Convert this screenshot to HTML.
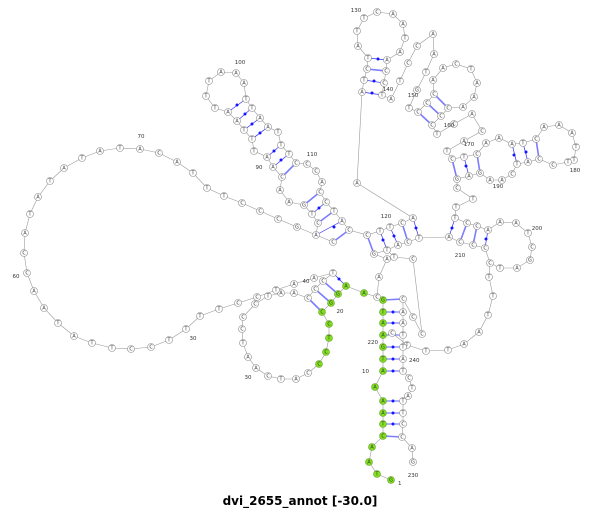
<!DOCTYPE html>
<html><head><meta charset="utf-8"><style>
body{margin:0;background:#fff}
svg{display:block}
.bb{fill:none;stroke:#9a9a9a;stroke-width:0.6}
.n circle{r:3.5px;fill:#fff;stroke:#8a8a8a;stroke-width:0.6}
.n circle.g{fill:#80e020;stroke:#6a9a30}
.n text{font-family:"DejaVu Sans","Liberation Sans",sans-serif;font-size:4.8px;text-anchor:middle;fill:#333}
.lb{font-family:"DejaVu Sans","Liberation Sans",sans-serif;font-size:5.5px;fill:#333}
.pd{stroke:#3030ff;stroke-width:0.7}
.pp{stroke:#7c7cff;stroke-width:1.6}
.dot{fill:#1515ff}
</style></head><body>
<svg width="600" height="510" viewBox="0 0 600 510" xmlns="http://www.w3.org/2000/svg">
<g class="bb">
<polyline points="391,480 377,474 369,462 372,447 383,436 383,424 383,413 383,401 375,387 383,371 383,359 383,347 383,335 383,323 383,312 383,300 377,297 364,293 346,286 338,294 331,303 322,312 329,324 329,338 326,352 319,364 308,373 296,379 281,379 268,376 256,368 248,357 243,343 242,329 243,317 255,304 268,296 281,293 294,293 308,298 315,289 323,281 333,273 314,278 294,284 276,290 257,297 238,303 219,309 200,316 186,329 169,340 151,347 131,349 112,348 92,343 74,336 58,323 44,308 34,291 27,273 24,253 25,233 30,214 38,197 50,181 64,168 82,158 100,151 120,148 140,149 159,153 177,162 193,173 207,188 224,196 242,203 260,211 278,219 297,227 316,235 318,223 312,214 304,205 289,202 280,190 282,177 273,167 267,157 254,151 252,139 244,130 237,121 228,112 215,108 206,96 209,81 221,72 236,73 244,83 246,99 252,108 260,118 268,127 278,132 281,145 289,154 296,163 307,164 316,171 322,182 320,192 326,202 334,211 342,221 349,230 367,235 380,231 390,227 402,223 413,218 357,183 362,92 364,80 367,69 368,58 358,46 357,31 364,18 377,12 393,14 403,24 405,38 400,52 387,60 386,71 384,83 382,95 391,99 400,81 408,63 417,46 433,34 434,54 426,72 417,90 409,108 418,112 427,103 434,94 433,80 443,68 456,64 471,69 477,83 474,97 463,107 448,108 441,116 432,125 437,134 454,124 472,114 482,131 464,141 447,151 452,159 464,157 477,154 486,143 499,138 512,144 523,143 536,139 544,127 559,125 572,133 576,147 574,160 568,162 553,165 539,159 528,162 517,164 512,174 502,180 490,180 480,173 469,176 457,179 457,188 473,199 456,207 455,218 467,223 477,226 488,230 500,222 516,223 528,233 532,247 530,260 517,268 500,268 490,263 485,248 473,245 460,242 449,237 419,238 408,242 398,245 387,250 374,254 387,259 379,277 377,297"/>
<polyline points="490,263 489,277 493,296 488,315 479,332 464,344 448,350 426,351 407,345 392,333"/>
<polyline points="394,257 413,259 422,334 413,317 403,299 403,312 403,323 403,335 403,347 403,359 403,371 409,378 412,388 408,396 403,401 403,413 403,424 402,437 412,448 413,462"/>
<polyline points="316,235 333,242 349,230"/>
<line x1="387" y1="250" x2="394" y2="257"/>
</g>
<g>
<line class="pp" x1="383" y1="300" x2="403" y2="299"/>
<line class="pp" x1="383" y1="436" x2="402" y2="437"/>
<line class="pp" x1="308" y1="298" x2="322" y2="312"/>
<line class="pp" x1="315" y1="289" x2="331" y2="303"/>
<line class="pp" x1="323" y1="281" x2="338" y2="294"/>
<line class="pp" x1="282" y1="177" x2="296" y2="163"/>
<line class="pp" x1="304" y1="205" x2="320" y2="192"/>
<line class="pp" x1="318" y1="223" x2="334" y2="211"/>
<line class="pp" x1="333" y1="242" x2="349" y2="230"/>
<line class="pp" x1="367" y1="235" x2="374" y2="254"/>
<line class="pp" x1="402" y1="223" x2="408" y2="242"/>
<line class="pp" x1="367" y1="69" x2="386" y2="71"/>
<line class="pp" x1="418" y1="112" x2="432" y2="125"/>
<line class="pp" x1="427" y1="103" x2="441" y2="116"/>
<line class="pp" x1="434" y1="94" x2="448" y2="108"/>
<line class="pp" x1="452" y1="159" x2="457" y2="179"/>
<line class="pp" x1="477" y1="154" x2="480" y2="173"/>
<line class="pp" x1="536" y1="139" x2="539" y2="159"/>
<line class="pp" x1="467" y1="223" x2="460" y2="242"/>
<line class="pp" x1="477" y1="226" x2="473" y2="245"/>
<g class="pd">
<line x1="383" y1="312" x2="403" y2="312"/><line x1="383" y1="323" x2="403" y2="323"/><line x1="383" y1="335" x2="403" y2="335"/><line x1="383" y1="347" x2="403" y2="347"/><line x1="383" y1="359" x2="403" y2="359"/><line x1="383" y1="371" x2="403" y2="371"/><line x1="383" y1="401" x2="403" y2="401"/><line x1="383" y1="413" x2="403" y2="413"/><line x1="383" y1="424" x2="403" y2="424"/>
<line x1="333" y1="273" x2="346" y2="286"/>
<line x1="228" y1="112" x2="246" y2="99"/><line x1="237" y1="121" x2="252" y2="108"/><line x1="244" y1="130" x2="260" y2="118"/><line x1="252" y1="139" x2="268" y2="127"/><line x1="267" y1="157" x2="281" y2="145"/><line x1="273" y1="167" x2="289" y2="154"/>
<line x1="312" y1="214" x2="326" y2="202"/><line x1="316" y1="235" x2="342" y2="221"/>
<line x1="380" y1="231" x2="387" y2="250"/><line x1="390" y1="227" x2="398" y2="245"/><line x1="413" y1="218" x2="419" y2="238"/>
<line x1="368" y1="58" x2="387" y2="60"/><line x1="364" y1="80" x2="384" y2="83"/><line x1="362" y1="92" x2="382" y2="95"/>
<line x1="464" y1="157" x2="469" y2="176"/><line x1="512" y1="144" x2="517" y2="164"/><line x1="523" y1="143" x2="528" y2="162"/>
<line x1="455" y1="218" x2="449" y2="237"/><line x1="488" y1="230" x2="485" y2="248"/>
</g>
<g class="dot">
<circle cx="393" cy="312" r="1.5"/><circle cx="393" cy="323" r="1.5"/><circle cx="393" cy="335" r="1.5"/><circle cx="393" cy="347" r="1.5"/><circle cx="393" cy="359" r="1.5"/><circle cx="393" cy="371" r="1.5"/><circle cx="393" cy="401" r="1.5"/><circle cx="393" cy="413" r="1.5"/><circle cx="393" cy="424" r="1.5"/>
<circle cx="339" cy="279" r="1.5"/>
<circle cx="237" cy="105" r="1.5"/><circle cx="245" cy="114" r="1.5"/><circle cx="252" cy="124" r="1.5"/><circle cx="260" cy="133" r="1.5"/><circle cx="274" cy="151" r="1.5"/><circle cx="281" cy="160" r="1.5"/>
<circle cx="319" cy="208" r="1.5"/><circle cx="334" cy="227" r="1.5"/>
<circle cx="383" cy="240" r="1.5"/><circle cx="394" cy="236" r="1.5"/><circle cx="416" cy="228" r="1.5"/>
<circle cx="378" cy="59" r="1.5"/><circle cx="374" cy="81" r="1.5"/><circle cx="372" cy="93" r="1.5"/>
<circle cx="466" cy="166" r="1.5"/><circle cx="514" cy="155" r="1.5"/><circle cx="526" cy="152" r="1.5"/>
<circle cx="452" cy="228" r="1.5"/><circle cx="486" cy="239" r="1.5"/>
</g>
</g>
<g class="n">
<circle class="g" cx="391" cy="480" r="3.5"/><text x="391" y="481.7">G</text>
<circle class="g" cx="377" cy="474" r="3.5"/><text x="377" y="475.7">T</text>
<circle class="g" cx="369" cy="462" r="3.5"/><text x="369" y="463.7">A</text>
<circle class="g" cx="372" cy="447" r="3.5"/><text x="372" y="448.7">A</text>
<circle class="g" cx="383" cy="436" r="3.5"/><text x="383" y="437.7">C</text>
<circle class="g" cx="383" cy="424" r="3.5"/><text x="383" y="425.7">T</text>
<circle class="g" cx="383" cy="413" r="3.5"/><text x="383" y="414.7">A</text>
<circle class="g" cx="383" cy="401" r="3.5"/><text x="383" y="402.7">A</text>
<circle class="g" cx="375" cy="387" r="3.5"/><text x="375" y="388.7">A</text>
<circle class="g" cx="383" cy="371" r="3.5"/><text x="383" y="372.7">A</text>
<circle class="g" cx="383" cy="359" r="3.5"/><text x="383" y="360.7">T</text>
<circle class="g" cx="383" cy="347" r="3.5"/><text x="383" y="348.7">G</text>
<circle class="g" cx="383" cy="335" r="3.5"/><text x="383" y="336.7">A</text>
<circle class="g" cx="383" cy="323" r="3.5"/><text x="383" y="324.7">A</text>
<circle class="g" cx="383" cy="312" r="3.5"/><text x="383" y="313.7">T</text>
<circle class="g" cx="383" cy="300" r="3.5"/><text x="383" y="301.7">G</text>
<circle cx="377" cy="297" r="3.5"/><text x="377" y="298.7">C</text>
<circle class="g" cx="364" cy="293" r="3.5"/><text x="364" y="294.7">A</text>
<circle class="g" cx="346" cy="286" r="3.5"/><text x="346" y="287.7">A</text>
<circle class="g" cx="338" cy="294" r="3.5"/><text x="338" y="295.7">G</text>
<circle class="g" cx="331" cy="303" r="3.5"/><text x="331" y="304.7">G</text>
<circle class="g" cx="322" cy="312" r="3.5"/><text x="322" y="313.7">C</text>
<circle class="g" cx="329" cy="324" r="3.5"/><text x="329" y="325.7">C</text>
<circle class="g" cx="329" cy="338" r="3.5"/><text x="329" y="339.7">T</text>
<circle class="g" cx="326" cy="352" r="3.5"/><text x="326" y="353.7">C</text>
<circle class="g" cx="319" cy="364" r="3.5"/><text x="319" y="365.7">C</text>
<circle cx="308" cy="373" r="3.5"/><text x="308" y="374.7">C</text>
<circle cx="296" cy="379" r="3.5"/><text x="296" y="380.7">A</text>
<circle cx="281" cy="379" r="3.5"/><text x="281" y="380.7">T</text>
<circle cx="268" cy="376" r="3.5"/><text x="268" y="377.7">C</text>
<circle cx="256" cy="368" r="3.5"/><text x="256" y="369.7">A</text>
<circle cx="248" cy="357" r="3.5"/><text x="248" y="358.7">A</text>
<circle cx="243" cy="343" r="3.5"/><text x="243" y="344.7">T</text>
<circle cx="242" cy="329" r="3.5"/><text x="242" y="330.7">C</text>
<circle cx="243" cy="317" r="3.5"/><text x="243" y="318.7">C</text>
<circle cx="255" cy="304" r="3.5"/><text x="255" y="305.7">C</text>
<circle cx="268" cy="296" r="3.5"/><text x="268" y="297.7">T</text>
<circle cx="281" cy="293" r="3.5"/><text x="281" y="294.7">A</text>
<circle cx="294" cy="293" r="3.5"/><text x="294" y="294.7">A</text>
<circle cx="308" cy="298" r="3.5"/><text x="308" y="299.7">C</text>
<circle cx="315" cy="289" r="3.5"/><text x="315" y="290.7">C</text>
<circle cx="323" cy="281" r="3.5"/><text x="323" y="282.7">C</text>
<circle cx="333" cy="273" r="3.5"/><text x="333" y="274.7">T</text>
<circle cx="314" cy="278" r="3.5"/><text x="314" y="279.7">A</text>
<circle cx="294" cy="284" r="3.5"/><text x="294" y="285.7">A</text>
<circle cx="276" cy="290" r="3.5"/><text x="276" y="291.7">T</text>
<circle cx="257" cy="297" r="3.5"/><text x="257" y="298.7">C</text>
<circle cx="238" cy="303" r="3.5"/><text x="238" y="304.7">C</text>
<circle cx="219" cy="309" r="3.5"/><text x="219" y="310.7">T</text>
<circle cx="200" cy="316" r="3.5"/><text x="200" y="317.7">T</text>
<circle cx="186" cy="329" r="3.5"/><text x="186" y="330.7">T</text>
<circle cx="169" cy="340" r="3.5"/><text x="169" y="341.7">T</text>
<circle cx="151" cy="347" r="3.5"/><text x="151" y="348.7">C</text>
<circle cx="131" cy="349" r="3.5"/><text x="131" y="350.7">C</text>
<circle cx="112" cy="348" r="3.5"/><text x="112" y="349.7">T</text>
<circle cx="92" cy="343" r="3.5"/><text x="92" y="344.7">T</text>
<circle cx="74" cy="336" r="3.5"/><text x="74" y="337.7">A</text>
<circle cx="58" cy="323" r="3.5"/><text x="58" y="324.7">T</text>
<circle cx="44" cy="308" r="3.5"/><text x="44" y="309.7">A</text>
<circle cx="34" cy="291" r="3.5"/><text x="34" y="292.7">A</text>
<circle cx="27" cy="273" r="3.5"/><text x="27" y="274.7">C</text>
<circle cx="24" cy="253" r="3.5"/><text x="24" y="254.7">C</text>
<circle cx="25" cy="233" r="3.5"/><text x="25" y="234.7">A</text>
<circle cx="30" cy="214" r="3.5"/><text x="30" y="215.7">T</text>
<circle cx="38" cy="197" r="3.5"/><text x="38" y="198.7">A</text>
<circle cx="50" cy="181" r="3.5"/><text x="50" y="182.7">T</text>
<circle cx="64" cy="168" r="3.5"/><text x="64" y="169.7">A</text>
<circle cx="82" cy="158" r="3.5"/><text x="82" y="159.7">T</text>
<circle cx="100" cy="151" r="3.5"/><text x="100" y="152.7">A</text>
<circle cx="120" cy="148" r="3.5"/><text x="120" y="149.7">T</text>
<circle cx="140" cy="149" r="3.5"/><text x="140" y="150.7">A</text>
<circle cx="159" cy="153" r="3.5"/><text x="159" y="154.7">C</text>
<circle cx="177" cy="162" r="3.5"/><text x="177" y="163.7">A</text>
<circle cx="193" cy="173" r="3.5"/><text x="193" y="174.7">T</text>
<circle cx="207" cy="188" r="3.5"/><text x="207" y="189.7">T</text>
<circle cx="224" cy="196" r="3.5"/><text x="224" y="197.7">T</text>
<circle cx="242" cy="203" r="3.5"/><text x="242" y="204.7">C</text>
<circle cx="260" cy="211" r="3.5"/><text x="260" y="212.7">C</text>
<circle cx="278" cy="219" r="3.5"/><text x="278" y="220.7">C</text>
<circle cx="297" cy="227" r="3.5"/><text x="297" y="228.7">G</text>
<circle cx="316" cy="235" r="3.5"/><text x="316" y="236.7">A</text>
<circle cx="333" cy="242" r="3.5"/><text x="333" y="243.7">C</text>
<circle cx="318" cy="223" r="3.5"/><text x="318" y="224.7">C</text>
<circle cx="312" cy="214" r="3.5"/><text x="312" y="215.7">T</text>
<circle cx="304" cy="205" r="3.5"/><text x="304" y="206.7">G</text>
<circle cx="289" cy="202" r="3.5"/><text x="289" y="203.7">A</text>
<circle cx="280" cy="190" r="3.5"/><text x="280" y="191.7">A</text>
<circle cx="282" cy="177" r="3.5"/><text x="282" y="178.7">C</text>
<circle cx="273" cy="167" r="3.5"/><text x="273" y="168.7">A</text>
<circle cx="267" cy="157" r="3.5"/><text x="267" y="158.7">A</text>
<circle cx="254" cy="151" r="3.5"/><text x="254" y="152.7">T</text>
<circle cx="252" cy="139" r="3.5"/><text x="252" y="140.7">T</text>
<circle cx="244" cy="130" r="3.5"/><text x="244" y="131.7">T</text>
<circle cx="237" cy="121" r="3.5"/><text x="237" y="122.7">A</text>
<circle cx="228" cy="112" r="3.5"/><text x="228" y="113.7">A</text>
<circle cx="215" cy="108" r="3.5"/><text x="215" y="109.7">T</text>
<circle cx="206" cy="96" r="3.5"/><text x="206" y="97.7">T</text>
<circle cx="209" cy="81" r="3.5"/><text x="209" y="82.7">T</text>
<circle cx="221" cy="72" r="3.5"/><text x="221" y="73.7">A</text>
<circle cx="236" cy="73" r="3.5"/><text x="236" y="74.7">A</text>
<circle cx="244" cy="83" r="3.5"/><text x="244" y="84.7">A</text>
<circle cx="246" cy="99" r="3.5"/><text x="246" y="100.7">T</text>
<circle cx="252" cy="108" r="3.5"/><text x="252" y="109.7">T</text>
<circle cx="260" cy="118" r="3.5"/><text x="260" y="119.7">A</text>
<circle cx="268" cy="127" r="3.5"/><text x="268" y="128.7">A</text>
<circle cx="278" cy="132" r="3.5"/><text x="278" y="133.7">T</text>
<circle cx="281" cy="145" r="3.5"/><text x="281" y="146.7">T</text>
<circle cx="289" cy="154" r="3.5"/><text x="289" y="155.7">T</text>
<circle cx="296" cy="163" r="3.5"/><text x="296" y="164.7">C</text>
<circle cx="307" cy="164" r="3.5"/><text x="307" y="165.7">C</text>
<circle cx="316" cy="171" r="3.5"/><text x="316" y="172.7">C</text>
<circle cx="322" cy="182" r="3.5"/><text x="322" y="183.7">A</text>
<circle cx="320" cy="192" r="3.5"/><text x="320" y="193.7">C</text>
<circle cx="326" cy="202" r="3.5"/><text x="326" y="203.7">C</text>
<circle cx="334" cy="211" r="3.5"/><text x="334" y="212.7">T</text>
<circle cx="342" cy="221" r="3.5"/><text x="342" y="222.7">A</text>
<circle cx="349" cy="230" r="3.5"/><text x="349" y="231.7">C</text>
<circle cx="367" cy="235" r="3.5"/><text x="367" y="236.7">C</text>
<circle cx="380" cy="231" r="3.5"/><text x="380" y="232.7">T</text>
<circle cx="390" cy="227" r="3.5"/><text x="390" y="228.7">T</text>
<circle cx="402" cy="223" r="3.5"/><text x="402" y="224.7">C</text>
<circle cx="413" cy="218" r="3.5"/><text x="413" y="219.7">A</text>
<circle cx="357" cy="183" r="3.5"/><text x="357" y="184.7">A</text>
<circle cx="362" cy="92" r="3.5"/><text x="362" y="93.7">A</text>
<circle cx="364" cy="80" r="3.5"/><text x="364" y="81.7">T</text>
<circle cx="367" cy="69" r="3.5"/><text x="367" y="70.7">C</text>
<circle cx="368" cy="58" r="3.5"/><text x="368" y="59.7">T</text>
<circle cx="358" cy="46" r="3.5"/><text x="358" y="47.7">A</text>
<circle cx="357" cy="31" r="3.5"/><text x="357" y="32.7">T</text>
<circle cx="364" cy="18" r="3.5"/><text x="364" y="19.7">T</text>
<circle cx="377" cy="12" r="3.5"/><text x="377" y="13.7">C</text>
<circle cx="393" cy="14" r="3.5"/><text x="393" y="15.7">A</text>
<circle cx="403" cy="24" r="3.5"/><text x="403" y="25.7">A</text>
<circle cx="405" cy="38" r="3.5"/><text x="405" y="39.7">T</text>
<circle cx="400" cy="52" r="3.5"/><text x="400" y="53.7">A</text>
<circle cx="387" cy="60" r="3.5"/><text x="387" y="61.7">A</text>
<circle cx="386" cy="71" r="3.5"/><text x="386" y="72.7">C</text>
<circle cx="384" cy="83" r="3.5"/><text x="384" y="84.7">C</text>
<circle cx="382" cy="95" r="3.5"/><text x="382" y="96.7">T</text>
<circle cx="391" cy="99" r="3.5"/><text x="391" y="100.7">A</text>
<circle cx="400" cy="81" r="3.5"/><text x="400" y="82.7">T</text>
<circle cx="408" cy="63" r="3.5"/><text x="408" y="64.7">C</text>
<circle cx="417" cy="46" r="3.5"/><text x="417" y="47.7">C</text>
<circle cx="433" cy="34" r="3.5"/><text x="433" y="35.7">A</text>
<circle cx="434" cy="54" r="3.5"/><text x="434" y="55.7">A</text>
<circle cx="426" cy="72" r="3.5"/><text x="426" y="73.7">T</text>
<circle cx="417" cy="90" r="3.5"/><text x="417" y="91.7">G</text>
<circle cx="409" cy="108" r="3.5"/><text x="409" y="109.7">T</text>
<circle cx="418" cy="112" r="3.5"/><text x="418" y="113.7">C</text>
<circle cx="427" cy="103" r="3.5"/><text x="427" y="104.7">C</text>
<circle cx="434" cy="94" r="3.5"/><text x="434" y="95.7">C</text>
<circle cx="433" cy="80" r="3.5"/><text x="433" y="81.7">A</text>
<circle cx="443" cy="68" r="3.5"/><text x="443" y="69.7">A</text>
<circle cx="456" cy="64" r="3.5"/><text x="456" y="65.7">C</text>
<circle cx="471" cy="69" r="3.5"/><text x="471" y="70.7">T</text>
<circle cx="477" cy="83" r="3.5"/><text x="477" y="84.7">A</text>
<circle cx="474" cy="97" r="3.5"/><text x="474" y="98.7">A</text>
<circle cx="463" cy="107" r="3.5"/><text x="463" y="108.7">A</text>
<circle cx="448" cy="108" r="3.5"/><text x="448" y="109.7">C</text>
<circle cx="441" cy="116" r="3.5"/><text x="441" y="117.7">C</text>
<circle cx="432" cy="125" r="3.5"/><text x="432" y="126.7">C</text>
<circle cx="437" cy="134" r="3.5"/><text x="437" y="135.7">T</text>
<circle cx="454" cy="124" r="3.5"/><text x="454" y="125.7">C</text>
<circle cx="472" cy="114" r="3.5"/><text x="472" y="115.7">A</text>
<circle cx="482" cy="131" r="3.5"/><text x="482" y="132.7">C</text>
<circle cx="464" cy="141" r="3.5"/><text x="464" y="142.7">A</text>
<circle cx="447" cy="151" r="3.5"/><text x="447" y="152.7">T</text>
<circle cx="452" cy="159" r="3.5"/><text x="452" y="160.7">C</text>
<circle cx="464" cy="157" r="3.5"/><text x="464" y="158.7">T</text>
<circle cx="477" cy="154" r="3.5"/><text x="477" y="155.7">C</text>
<circle cx="486" cy="143" r="3.5"/><text x="486" y="144.7">A</text>
<circle cx="499" cy="138" r="3.5"/><text x="499" y="139.7">A</text>
<circle cx="512" cy="144" r="3.5"/><text x="512" y="145.7">A</text>
<circle cx="523" cy="143" r="3.5"/><text x="523" y="144.7">T</text>
<circle cx="536" cy="139" r="3.5"/><text x="536" y="140.7">C</text>
<circle cx="544" cy="127" r="3.5"/><text x="544" y="128.7">A</text>
<circle cx="559" cy="125" r="3.5"/><text x="559" y="126.7">A</text>
<circle cx="572" cy="133" r="3.5"/><text x="572" y="134.7">A</text>
<circle cx="576" cy="147" r="3.5"/><text x="576" y="148.7">T</text>
<circle cx="574" cy="160" r="3.5"/><text x="574" y="161.7">T</text>
<circle cx="568" cy="162" r="3.5"/><text x="568" y="163.7">T</text>
<circle cx="553" cy="165" r="3.5"/><text x="553" y="166.7">C</text>
<circle cx="539" cy="159" r="3.5"/><text x="539" y="160.7">C</text>
<circle cx="528" cy="162" r="3.5"/><text x="528" y="163.7">A</text>
<circle cx="517" cy="164" r="3.5"/><text x="517" y="165.7">T</text>
<circle cx="512" cy="174" r="3.5"/><text x="512" y="175.7">C</text>
<circle cx="502" cy="180" r="3.5"/><text x="502" y="181.7">A</text>
<circle cx="490" cy="180" r="3.5"/><text x="490" y="181.7">A</text>
<circle cx="480" cy="173" r="3.5"/><text x="480" y="174.7">G</text>
<circle cx="469" cy="176" r="3.5"/><text x="469" y="177.7">A</text>
<circle cx="457" cy="179" r="3.5"/><text x="457" y="180.7">G</text>
<circle cx="457" cy="188" r="3.5"/><text x="457" y="189.7">C</text>
<circle cx="473" cy="199" r="3.5"/><text x="473" y="200.7">T</text>
<circle cx="456" cy="207" r="3.5"/><text x="456" y="208.7">T</text>
<circle cx="455" cy="218" r="3.5"/><text x="455" y="219.7">T</text>
<circle cx="467" cy="223" r="3.5"/><text x="467" y="224.7">C</text>
<circle cx="477" cy="226" r="3.5"/><text x="477" y="227.7">C</text>
<circle cx="488" cy="230" r="3.5"/><text x="488" y="231.7">A</text>
<circle cx="500" cy="222" r="3.5"/><text x="500" y="223.7">A</text>
<circle cx="516" cy="223" r="3.5"/><text x="516" y="224.7">A</text>
<circle cx="528" cy="233" r="3.5"/><text x="528" y="234.7">T</text>
<circle cx="532" cy="247" r="3.5"/><text x="532" y="248.7">C</text>
<circle cx="530" cy="260" r="3.5"/><text x="530" y="261.7">G</text>
<circle cx="517" cy="268" r="3.5"/><text x="517" y="269.7">A</text>
<circle cx="500" cy="268" r="3.5"/><text x="500" y="269.7">T</text>
<circle cx="490" cy="263" r="3.5"/><text x="490" y="264.7">C</text>
<circle cx="485" cy="248" r="3.5"/><text x="485" y="249.7">C</text>
<circle cx="473" cy="245" r="3.5"/><text x="473" y="246.7">C</text>
<circle cx="460" cy="242" r="3.5"/><text x="460" y="243.7">C</text>
<circle cx="449" cy="237" r="3.5"/><text x="449" y="238.7">A</text>
<circle cx="419" cy="238" r="3.5"/><text x="419" y="239.7">T</text>
<circle cx="408" cy="242" r="3.5"/><text x="408" y="243.7">C</text>
<circle cx="398" cy="245" r="3.5"/><text x="398" y="246.7">A</text>
<circle cx="387" cy="250" r="3.5"/><text x="387" y="251.7">T</text>
<circle cx="374" cy="254" r="3.5"/><text x="374" y="255.7">G</text>
<circle cx="387" cy="259" r="3.5"/><text x="387" y="260.7">A</text>
<circle cx="394" cy="257" r="3.5"/><text x="394" y="258.7">T</text>
<circle cx="413" cy="259" r="3.5"/><text x="413" y="260.7">C</text>
<circle cx="379" cy="277" r="3.5"/><text x="379" y="278.7">A</text>
<circle cx="489" cy="277" r="3.5"/><text x="489" y="278.7">T</text>
<circle cx="493" cy="296" r="3.5"/><text x="493" y="297.7">T</text>
<circle cx="488" cy="315" r="3.5"/><text x="488" y="316.7">T</text>
<circle cx="479" cy="332" r="3.5"/><text x="479" y="333.7">A</text>
<circle cx="464" cy="344" r="3.5"/><text x="464" y="345.7">A</text>
<circle cx="448" cy="350" r="3.5"/><text x="448" y="351.7">T</text>
<circle cx="426" cy="351" r="3.5"/><text x="426" y="352.7">T</text>
<circle cx="407" cy="345" r="3.5"/><text x="407" y="346.7">T</text>
<circle cx="392" cy="333" r="3.5"/><text x="392" y="334.7">C</text>
<circle cx="422" cy="334" r="3.5"/><text x="422" y="335.7">C</text>
<circle cx="413" cy="317" r="3.5"/><text x="413" y="318.7">C</text>
<circle cx="403" cy="299" r="3.5"/><text x="403" y="300.7">C</text>
<circle cx="403" cy="312" r="3.5"/><text x="403" y="313.7">A</text>
<circle cx="403" cy="323" r="3.5"/><text x="403" y="324.7">A</text>
<circle cx="403" cy="335" r="3.5"/><text x="403" y="336.7">T</text>
<circle cx="403" cy="347" r="3.5"/><text x="403" y="348.7">T</text>
<circle cx="403" cy="359" r="3.5"/><text x="403" y="360.7">A</text>
<circle cx="403" cy="371" r="3.5"/><text x="403" y="372.7">T</text>
<circle cx="409" cy="378" r="3.5"/><text x="409" y="379.7">C</text>
<circle cx="412" cy="388" r="3.5"/><text x="412" y="389.7">T</text>
<circle cx="408" cy="396" r="3.5"/><text x="408" y="397.7">A</text>
<circle cx="403" cy="401" r="3.5"/><text x="403" y="402.7">T</text>
<circle cx="403" cy="413" r="3.5"/><text x="403" y="414.7">T</text>
<circle cx="403" cy="424" r="3.5"/><text x="403" y="425.7">C</text>
<circle cx="402" cy="437" r="3.5"/><text x="402" y="438.7">C</text>
<circle cx="412" cy="448" r="3.5"/><text x="412" y="449.7">A</text>
<circle cx="413" cy="462" r="3.5"/><text x="413" y="463.7">G</text>
</g>
<g class="lb">
<text x="398" y="485">1</text>
<text x="369" y="373" text-anchor="end">10</text>
<text x="378" y="344" text-anchor="end">220</text>
<text x="409" y="362">240</text>
<text x="413" y="477" text-anchor="middle">230</text>
<text x="248" y="379" text-anchor="middle">30</text>
<text x="340" y="313" text-anchor="middle">20</text>
<text x="306" y="283" text-anchor="middle">40</text>
<text x="193" y="340" text-anchor="middle">30</text>
<text x="16" y="278" text-anchor="middle">60</text>
<text x="141" y="138" text-anchor="middle">70</text>
<text x="259" y="169" text-anchor="middle">90</text>
<text x="240" y="64" text-anchor="middle">100</text>
<text x="312" y="156" text-anchor="middle">110</text>
<text x="386" y="218" text-anchor="middle">120</text>
<text x="356" y="12" text-anchor="middle">130</text>
<text x="388" y="91" text-anchor="middle">140</text>
<text x="413" y="97" text-anchor="middle">150</text>
<text x="449" y="127" text-anchor="middle">160</text>
<text x="469" y="146" text-anchor="middle">170</text>
<text x="575" y="172" text-anchor="middle">180</text>
<text x="498" y="188" text-anchor="middle">190</text>
<text x="537" y="230" text-anchor="middle">200</text>
<text x="460" y="257" text-anchor="middle">210</text>
</g>
<text x="300" y="505" text-anchor="middle" style="font-family:'DejaVu Sans','Liberation Sans',sans-serif;font-size:12px;font-weight:bold;fill:#000">dvi_2655_annot [-30.0]</text>
</svg>
</body></html>
